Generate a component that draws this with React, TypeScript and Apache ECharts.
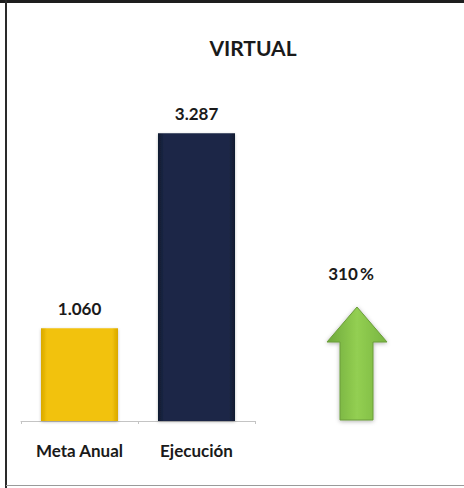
import React, { useEffect, useRef } from "react";
import * as echarts from "echarts";

const categories = ["Meta Anual", "Ejecución"];
const values = [1060, 3287];
const barColors = [
  ["#f9d93a", "#f2c20a", "#d9a800"],
  ["#3b4c6e", "#1b2846", "#101a30"],
];
const titleText = "VIRTUAL";

const fmt = (v: number) =>
  String(Math.round(v)).replace(/\B(?=(\d{3})+(?!\d))/g, ".");

export default function App() {
  const ref = useRef<HTMLDivElement>(null);
  useEffect(() => {
    if (!ref.current) return;
    const chart = echarts.init(ref.current, null, { renderer: "svg" });
    const pct = Math.round((values[1] / values[0]) * 100);
    const font = "Lato, 'Open Sans', sans-serif";
    chart.setOption({
      animation: false,
      backgroundColor: "#ffffff",
      title: {
        text: titleText,
        left: 248,
        textAlign: "center",
        top: 32,
        textStyle: { fontFamily: font, fontWeight: "bold", fontSize: 21, color: "#1a1a1a" },
      },
      grid: { left: 21, right: 209, top: 84, bottom: 67 },
      xAxis: {
        type: "category",
        data: categories,
        axisLine: { lineStyle: { color: "#c4c4c4", width: 1 } },
        axisTick: { show: true, length: 3, lineStyle: { color: "#c4c4c4" } },
        axisLabel: {
          fontFamily: font,
          fontWeight: "bold",
          fontSize: 17,
          color: "#1a1a1a",
          margin: 21,
        },
      },
      yAxis: {
        type: "value",
        min: 0,
        max: 3850,
        show: false,
        splitLine: { show: false },
      },
      series: [
        {
          type: "bar",
          barWidth: 77,
          data: values.map((v, i) => ({
            value: v,
            itemStyle: {
              color: new echarts.graphic.LinearGradient(0, 0, 1, 0, [
                { offset: 0, color: barColors[i][2] },
                { offset: 0.08, color: barColors[i][1] },
                { offset: 0.92, color: barColors[i][1] },
                { offset: 1, color: barColors[i][2] },
              ]),
              shadowColor: "rgba(0,0,0,0.25)",
              shadowBlur: 3,
              shadowOffsetY: 1,
            },
          })),
          label: {
            show: true,
            position: "top",
            distance: 11,
            formatter: (p: any) => fmt(p.value),
            fontFamily: font,
            fontWeight: "bold",
            fontSize: 17,
            color: "#1a1a1a",
          },
        },
      ],
      graphic: [
        {
          type: "text",
          x: 351,
          y: 273,
          style: {
            text: pct + "\u2009%",
            fontFamily: font,
            fontWeight: "bold",
            fontSize: 17,
            fill: "#1a1a1a",
            align: "center",
            verticalAlign: "middle",
          },
        },
        {
          type: "polygon",
          shape: {
            points: [
              [357, 307],
              [387, 342],
              [373, 342],
              [373, 420],
              [340, 420],
              [340, 342],
              [327, 342],
            ],
          },
          style: {
            fill: new echarts.graphic.LinearGradient(0, 0, 1, 0, [
              { offset: 0, color: "#6ea83a" },
              { offset: 0.5, color: "#93cf52" },
              { offset: 1, color: "#78b540" },
            ]),
            stroke: "#6a9c3a",
            lineWidth: 1,
            shadowColor: "rgba(0,0,0,0.3)",
            shadowBlur: 4,
            shadowOffsetY: 1,
          },
        },
        { type: "line", shape: { x1: 0, y1: 1.5, x2: 464, y2: 1.5 }, style: { stroke: "#1e1e1e", lineWidth: 3 } },
        { type: "line", shape: { x1: 6, y1: 0, x2: 6, y2: 488 }, style: { stroke: "#2a2a2a", lineWidth: 2 } },
        { type: "line", shape: { x1: 6, y1: 485.5, x2: 464, y2: 485.5 }, style: { stroke: "#9a9a9a", lineWidth: 1 } },
      ],
    });
    return () => chart.dispose();
  }, []);
  return (
    <div
      ref={ref}
      style={{ position: "fixed", left: 0, top: 0, width: 464, height: 488 }}
    />
  );
}
